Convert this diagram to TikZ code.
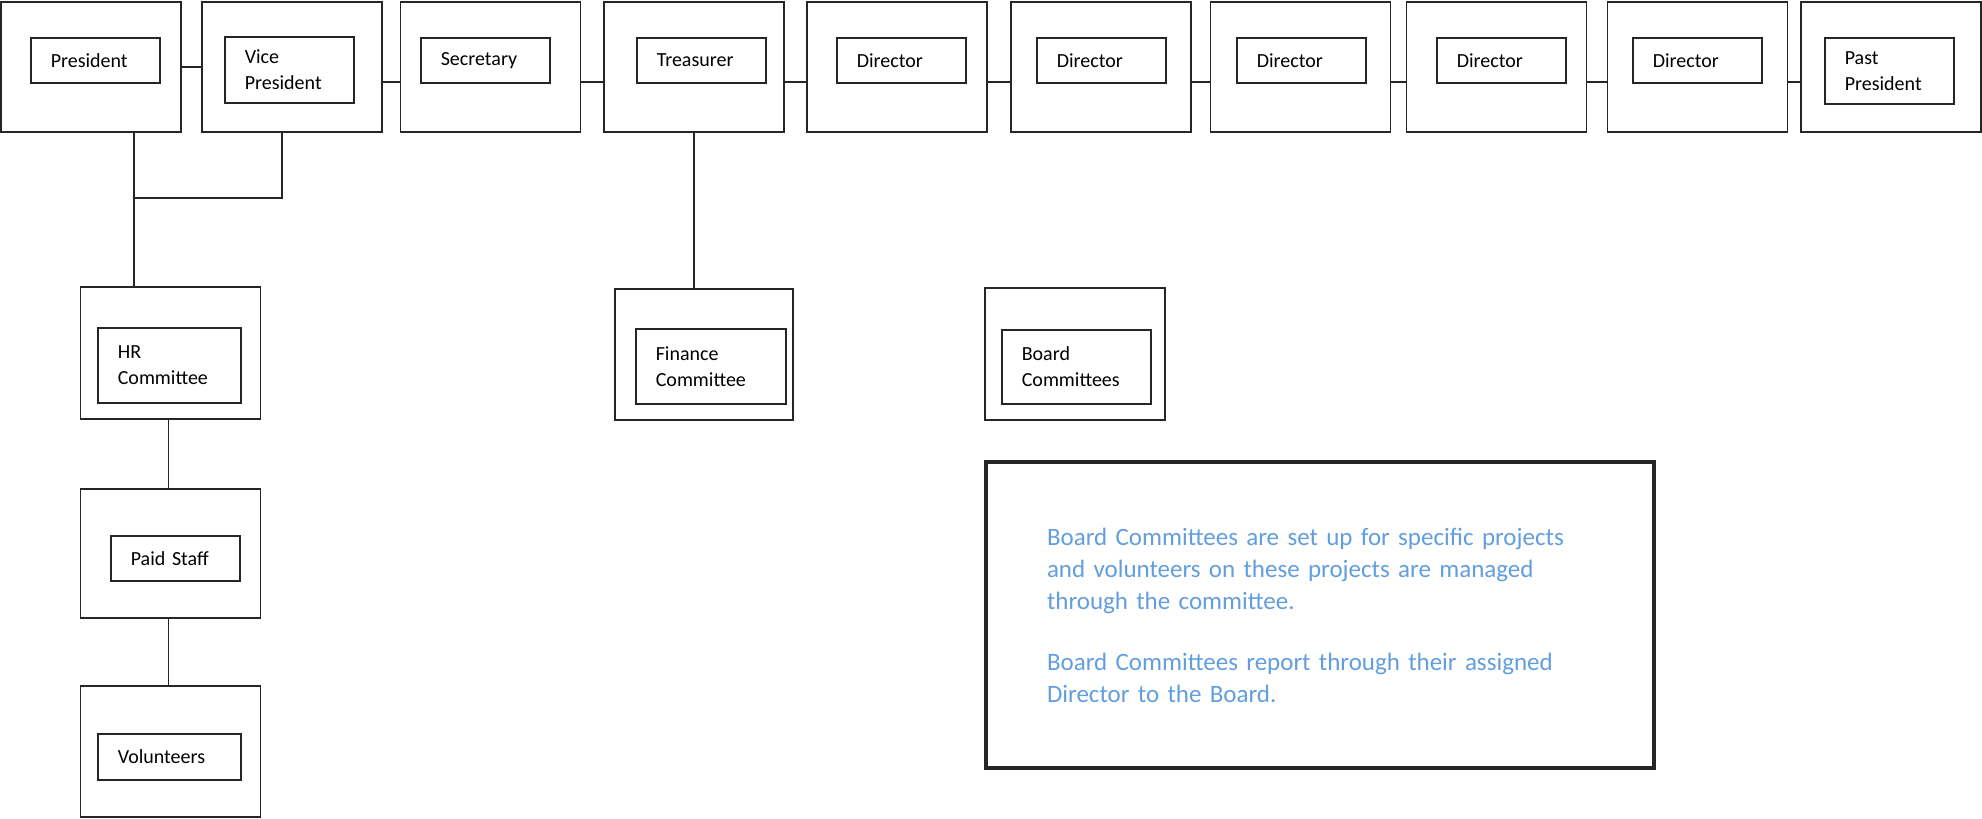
\documentclass[tikz,border=0pt]{standalone}
\usepackage{fontspec}
\setmainfont{Carlito}
\definecolor{notetext}{RGB}{98,158,222}

\begin{document}
\begin{tikzpicture}[x=0.5pt, y=-0.5pt,
post/.style={draw=black!85, line width=0.8pt, minimum width=90pt, minimum height=65pt, inner sep=0pt},
postname/.style={draw=black!85, line width=0.8pt, anchor=north west, align=left, inner xsep=10pt, inner ysep=0pt, font=\fontsize{10}{13}\selectfont},
postone/.style={postname, text width=44.5pt, minimum height=22.5pt},
posttwo/.style={postname, text width=44.5pt, minimum height=33pt},
postwide/.style={postname, text width=#1, minimum height=37.5pt},
link/.style={draw=black!85, line width=0.8pt},
note/.style={draw=black!85, line width=1.6pt, minimum width=334pt, minimum height=153pt, inner xsep=30.5pt, text width=273pt, align=left, text=notetext, font=\fontsize{12.5}{16}\selectfont}
]
  \useasboundingbox (0,0) rectangle (1982,819);

  % board row
  \node[post] (pres) at (91,67) {};
  \node[post] (vp) at (292,67) {};
  \node[post] (sec) at (490.5,67) {};
  \node[post] (treas) at (694,67) {};
  \node[post] (dirA) at (897,67) {};
  \node[post] (dirB) at (1101,67) {};
  \node[post] (dirC) at (1300.5,67) {};
  \node[post] (dirD) at (1496.5,67) {};
  \node[post] (dirE) at (1697.5,67) {};
  \node[post] (past) at (1891,67) {};

  \node[postone] (presT) at (30,37) {President};
  \node[posttwo] (vpT) at (224,36) {Vice\\President};
  \node[postone] (secT) at (420,37) {Secretary};
  \node[postone] (treasT) at (636,37) {Treasurer};
  \node[postone] (dirAT) at (836,37) {Director};
  \node[postone] (dirBT) at (1036,37) {Director};
  \node[postone] (dirCT) at (1236,37) {Director};
  \node[postone] (dirDT) at (1436,37) {Director};
  \node[postone] (dirET) at (1632,37) {Director};
  \node[posttwo] (pastT) at (1824,37) {Past\\President};

  % committees and staff
  \node[post, minimum height=66pt] (hr) at (170.5,353) {};
  \node[postwide=51.5pt] (hrT) at (97,327) {HR\\Committee};
  \node[post, minimum height=64.5pt] (paid) at (170.5,553.5) {};
  \node[postone] (paidT) at (110,535) {Paid Staff};
  \node[post, minimum height=65.5pt] (vol) at (170.5,751.5) {};
  \node[postone, text width=51.5pt, minimum height=23pt] (volT) at (97,733) {Volunteers};
  \node[post, minimum width=89pt, minimum height=65.5pt] (fin) at (704,354.5) {};
  \node[postwide=55pt] (finT) at (635,328) {Finance\\Committee};
  \node[post, minimum height=66pt] (board) at (1075,354) {};
  \node[postwide=54.5pt, minimum height=37pt] (boardT) at (1001,329) {Board\\Committees};

  \node[note] (note) at (1320,615) {Board Committees are set up for specific projects\\
    and volunteers on these projects are managed\\
    through the committee.\\[14.5pt]
    Board Committees report through their assigned\\
    Director to the Board.};

  \coordinate (join) at (134,198);

  \draw[link] (pres) -- (vp)
        ([yshift=-7.5pt]vp.east) -- ([yshift=-7.5pt]sec.west)
        ([yshift=-7.5pt]sec.east) -- ([yshift=-7.5pt]treas.west)
        ([yshift=-7.5pt]treas.east) -- ([yshift=-7.5pt]dirA.west)
        ([yshift=-7.5pt]dirA.east) -- ([yshift=-7.5pt]dirB.west)
        ([yshift=-7.5pt]dirB.east) -- ([yshift=-7.5pt]dirC.west)
        ([yshift=-7.5pt]dirC.east) -- ([yshift=-7.5pt]dirD.west)
        ([yshift=-7.5pt]dirD.east) -- ([yshift=-7.5pt]dirE.west)
        ([yshift=-7.5pt]dirE.east) -- ([yshift=-7.5pt]past.west);

  \draw[link] ([xshift=21.5pt]pres.south) -- (join) -- (join |- hr.north)
        ([xshift=-5pt]vp.south) |- (join)
        (treas.south) -- (treas.south |- fin.north)
        ([xshift=-1pt]hr.south) -- ([xshift=-1pt]paid.north)
        ([xshift=-1pt]paid.south) -- ([xshift=-1pt]vol.north);
\end{tikzpicture}
\end{document}
